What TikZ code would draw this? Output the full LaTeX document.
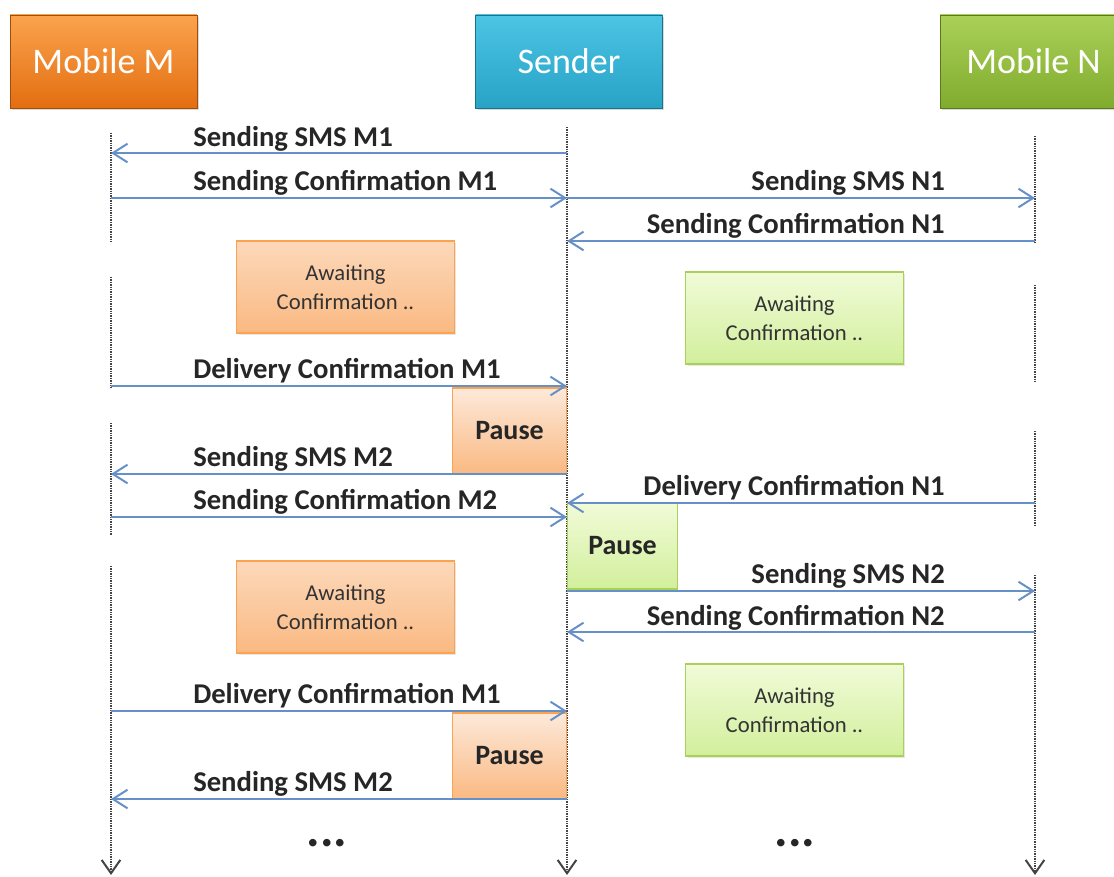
\documentclass[tikz,border=0pt]{standalone}
\usepackage{fontspec}
\setmainfont{Carlito}
\usetikzlibrary{arrows.meta,shadows}

\definecolor{msgblue}{HTML}{6690C8}
\definecolor{lifegray}{HTML}{444444}
\definecolor{orgtop}{HTML}{FBA34E}
\definecolor{orgbot}{HTML}{E36E10}
\definecolor{blutop}{HTML}{4CC4E4}
\definecolor{blubot}{HTML}{27A3C6}
\definecolor{grntop}{HTML}{AAD058}
\definecolor{grnbot}{HTML}{80AC2E}
\definecolor{peach}{HTML}{FAB982}
\definecolor{peachlt}{HTML}{FDE9DA}
\definecolor{limelt}{HTML}{F1FBD8}
\definecolor{lime}{HTML}{D2EF9C}

\tikzset{
  lifeline/.style={lifegray, line width=1.2pt, dash pattern=on 1pt off 0.8pt},
  msg/.style={msgblue, line width=1.5pt, -{Straight Barb[length=11pt,width=14pt]}},
  lbl/.style={font=\fontsize{21.5}{25}\selectfont\bfseries, text=black!85, inner sep=0pt},
  header/.style={minimum width=140pt, minimum height=70pt, inner sep=0pt, text=white,
    font=\fontsize{27}{32}\selectfont, draw=#1!70!black, line width=0.4pt,
    drop shadow={shadow xshift=1.5pt, shadow yshift=-1.5pt, opacity=0.3}},
  waitbox/.style={minimum width=163pt, minimum height=69pt, align=center, text=black!80,
    font=\fontsize{17}{22}\selectfont, line width=0.8pt,
    drop shadow={shadow xshift=1.5pt, shadow yshift=-1.5pt, opacity=0.2}},
  pausebox/.style={minimum height=64.5pt, inner sep=0pt, line width=0.8pt,
    font=\fontsize{21}{24}\selectfont\bfseries, text=black!85},
}

\begin{document}
\begin{tikzpicture}[x=0.75pt, y=-0.75pt]
  \useasboundingbox (0,0) rectangle (1114,876);
  \clip (0,0) rectangle (1114,876);

  % Cabecalhos
  \node[header=orgbot, top color=orgtop, bottom color=orgbot] (mobM) at (103.5,61.5) {Mobile M};
  \node[header=blubot, top color=blutop, bottom color=blubot] (sender) at (569,61.5) {Sender};
  \node[header=grnbot, top color=grntop, bottom color=grnbot] (mobN) at (1033.5,61.5) {Mobile N};

  % Linhas de vida
  \foreach \a/\b in {133/243, 277/388, 423/535}
    \draw[lifeline] (111,\a) -- (111,\b);
  \foreach \a/\b in {136/243, 285/382, 431/526}
    \draw[lifeline] (1035,\a) -- (1035,\b);
  \coordinate (Mtop) at (111,566);
  \coordinate (Stop) at (567,127);
  \coordinate (Ntop) at (1035,575);
  \coordinate (Mend) at (111,875);
  \coordinate (Send) at (567,875);
  \coordinate (Nend) at (1035,875);
  \foreach \l in {M,S,N}
    \draw[lifeline, -{Straight Barb[length=10pt,width=14pt,line width=1.5pt]}] (\l top) -- (\l end);

  % Pontos de cada mensagem
  \foreach \r/\y in {r1/153, r2/198, r3/241, r4/386, r5/474, r6/503, r7/517,
                     r8/591, r9/632, r10/711, r11/799} {
    \coordinate (M-\r) at (111,\y);
    \coordinate (S-\r) at (567,\y);
    \coordinate (N-\r) at (1035,\y);
  }

  % Estados de espera
  \node[waitbox, draw=orgtop, top color=peach!55, bottom color=peach] (waitM1) at (345.5,287) {Awaiting\\Confirmation ..};
  \node[waitbox, draw=grntop, top color=limelt, bottom color=lime] (waitN1) at (794.5,318) {Awaiting\\Confirmation ..};
  \node[waitbox, draw=orgtop, top color=peach!55, bottom color=peach] (waitM2) at (345.5,607) {Awaiting\\Confirmation ..};
  \node[waitbox, draw=grntop, top color=limelt, bottom color=lime] (waitN2) at (794.5,710) {Awaiting\\Confirmation ..};

  % Pausas
  \node[pausebox, minimum width=86pt, draw=orgtop, top color=peachlt, bottom color=peach] (pauseM1) at (509.5,431) {Pause};
  \node[pausebox, minimum width=83pt, draw=grntop, top color=limelt, bottom color=lime] (pauseN1) at (622.5,546) {Pause};
  \node[pausebox, minimum width=86pt, draw=orgtop, top color=peachlt, bottom color=peach] (pauseM2) at (509.5,756) {Pause};

  % Mensagens
  \draw[msg] (S-r1) -- (M-r1);
  \draw[msg] (M-r2) -- (S-r2);
  \draw[msg] (S-r2) -- (N-r2);
  \draw[msg] (N-r3) -- (S-r3);
  \draw[msg] (M-r4) -- (S-r4);
  \draw[msg] (S-r5) -- (M-r5);
  \draw[msg] (N-r6) -- (S-r6);
  \draw[msg] (M-r7) -- (S-r7);
  \draw[msg] (S-r8) -- (N-r8);
  \draw[msg] (N-r9) -- (S-r9);
  \draw[msg] (M-r10) -- (S-r10);
  \draw[msg] (S-r11) -- (M-r11);

  % Rotulos
  \node[lbl, anchor=base west] (t1) at (193,146) {Sending SMS M1};
  \node[lbl, anchor=base west] (t2) at (193,190) {Sending Confirmation M1};
  \node[lbl, anchor=base east] (t3) at (945,190) {Sending SMS N1};
  \node[lbl, anchor=base east] (t4) at (945,233) {Sending Confirmation N1};
  \node[lbl, anchor=base west] (t5) at (193,378) {Delivery Confirmation M1};
  \node[lbl, anchor=base west] (t6) at (193,466) {Sending SMS M2};
  \node[lbl, anchor=base east] (t7) at (945,495) {Delivery Confirmation N1};
  \node[lbl, anchor=base west] (t8) at (193,509) {Sending Confirmation M2};
  \node[lbl, anchor=base east] (t9) at (945,583) {Sending SMS N2};
  \node[lbl, anchor=base east] (t10) at (945,625) {Sending Confirmation N2};
  \node[lbl, anchor=base west] (t11) at (193,703) {Delivery Confirmation M1};
  \node[lbl, anchor=base west] (t12) at (193,791) {Sending SMS M2};

  % Continua...
  \node[lbl, font=\fontsize{38}{38}\selectfont\bfseries] (moreM) at (327,843) {...};
  \node[lbl, font=\fontsize{38}{38}\selectfont\bfseries] (moreN) at (795,843) {...};
\end{tikzpicture}
\end{document}
